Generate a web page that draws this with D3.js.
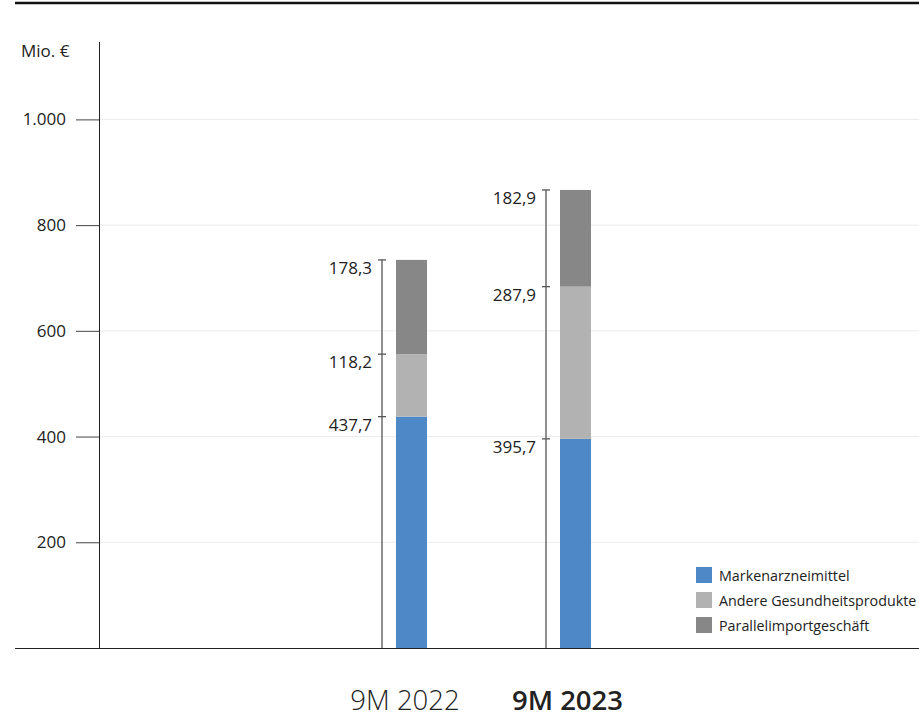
<!DOCTYPE html>
<html>
<head>
<meta charset="utf-8">
<script src="https://cdn.jsdelivr.net/npm/d3@7"></script>
<style>
  body { margin: 0; background: #fff; }
  svg text { font-family: "Open Sans", "Noto Sans", sans-serif; fill: #222; }
</style>
</head>
<body>
<svg id="chart" width="919" height="718"></svg>
<script>
var PERIODS = ['9M 2022', '9M 2023'];
var SERIES = ['Markenarzneimittel', 'Andere Gesundheitsprodukte', 'Parallelimportgeschäft'];
var MARKEN = [437.7, 395.7];
var ANDERE = [118.2, 287.9];
var PARALLEL = [178.3, 182.9];
var SEG_LABELS = [['437,7', '118,2', '178,3'], ['395,7', '287,9', '182,9']];
var Y_TICKS = [200, 400, 600, 800, 1000];
var Y_TICK_LABELS = ['200', '400', '600', '800', '1.000'];

var COLORS = ['#4f88c6', '#b2b2b2', '#878787'];

var svg = d3.select('#chart');

var y = d3.scaleLinear().domain([0, 1000]).range([648, 119.4]);
var x = d3.scaleOrdinal().domain(PERIODS).range([411.5, 575.5]);
var barW = 31;

// build stacked rows
var rows = PERIODS.map(function(p, i){
  return { period: p, Markenarzneimittel: MARKEN[i], 'Andere Gesundheitsprodukte': ANDERE[i], 'Parallelimportgeschäft': PARALLEL[i] };
});
var stacked = d3.stack().keys(SERIES)(rows);

// top rule
svg.append('line')
  .attr('x1', 15).attr('x2', 919).attr('y1', 3).attr('y2', 3)
  .attr('stroke', '#111').attr('stroke-width', 2.5);

// gridlines
svg.selectAll('.grid').data(Y_TICKS).enter().append('line')
  .attr('class', 'grid')
  .attr('x1', 99).attr('x2', 919)
  .attr('y1', function(d){ return y(d); }).attr('y2', function(d){ return y(d); })
  .attr('stroke', '#ececec').attr('stroke-width', 1);

// y axis
var yAxis = d3.axisLeft(y).tickValues(Y_TICKS).tickSize(23).tickPadding(10)
  .tickFormat(function(d, i){ return Y_TICK_LABELS[i]; });
var ya = svg.append('g').attr('transform', 'translate(99,0)').call(yAxis);
ya.select('.domain').remove();
ya.selectAll('.tick line').attr('stroke', '#444');
ya.selectAll('.tick text').attr('font-size', 17).attr('fill', '#333')
  .style('font-family', '"Open Sans", "Noto Sans", sans-serif');
svg.append('line')
  .attr('x1', 99.5).attr('x2', 99.5).attr('y1', 42).attr('y2', 648)
  .attr('stroke', '#222').attr('stroke-width', 1);

svg.append('text')
  .attr('x', 21).attr('y', 57)
  .attr('font-size', 17).attr('fill', '#333')
  .text('Mio. €');

// bars
svg.selectAll('.layer').data(stacked).enter().append('g')
  .attr('class', 'layer')
  .attr('fill', function(d, i){ return COLORS[i]; })
  .selectAll('rect').data(function(d){ return d; }).enter().append('rect')
  .attr('x', function(d){ return x(d.data.period) - barW / 2; })
  .attr('width', barW)
  .attr('y', function(d){ return y(d[1]); })
  .attr('height', function(d){ return y(d[0]) - y(d[1]); });

// brackets with segment labels
PERIODS.forEach(function(p, i){
  var bx = x(p) - 29.5;
  var top = stacked[2][i][1];
  var g = svg.append('g');
  g.append('line')
    .attr('x1', bx).attr('x2', bx).attr('y1', y(top)).attr('y2', 648)
    .attr('stroke', '#555').attr('stroke-width', 1.3);
  stacked.forEach(function(layer, k){
    var ty = y(layer[i][1]);
    g.append('line')
      .attr('x1', bx - 4).attr('x2', bx + 4).attr('y1', ty).attr('y2', ty)
      .attr('stroke', '#555').attr('stroke-width', 1.3);
    g.append('text')
      .attr('x', bx - 10).attr('y', ty + 14)
      .attr('text-anchor', 'end')
      .attr('font-size', 17).attr('fill', '#333')
      .text(SEG_LABELS[i][k]);
  });
});

// baseline
svg.append('line')
  .attr('x1', 15).attr('x2', 919).attr('y1', 648.5).attr('y2', 648.5)
  .attr('stroke', '#222').attr('stroke-width', 1.2);

// x labels
svg.selectAll('.xlab').data(PERIODS).enter().append('text')
  .attr('class', 'xlab')
  .attr('x', function(d, i){ return x(d) - (i === 0 ? 6.5 : 8); })
  .attr('y', 710)
  .attr('text-anchor', 'middle')
  .attr('font-size', 27.5)
  .attr('font-weight', function(d, i){ return i === 1 ? 600 : 300; })
  .attr('fill', '#222')
  .text(function(d){ return d; });

// legend
var leg = svg.selectAll('.leg').data(SERIES).enter().append('g')
  .attr('class', 'leg')
  .attr('transform', function(d, i){ return 'translate(696,' + (567 + i * 25) + ')'; });
leg.append('rect').attr('width', 16).attr('height', 16)
  .attr('fill', function(d, i){ return COLORS[i]; });
leg.append('text').attr('x', 23).attr('y', 13.5)
  .attr('font-size', 14.3).attr('fill', '#333')
  .text(function(d){ return d; });
</script>
</body>
</html>
